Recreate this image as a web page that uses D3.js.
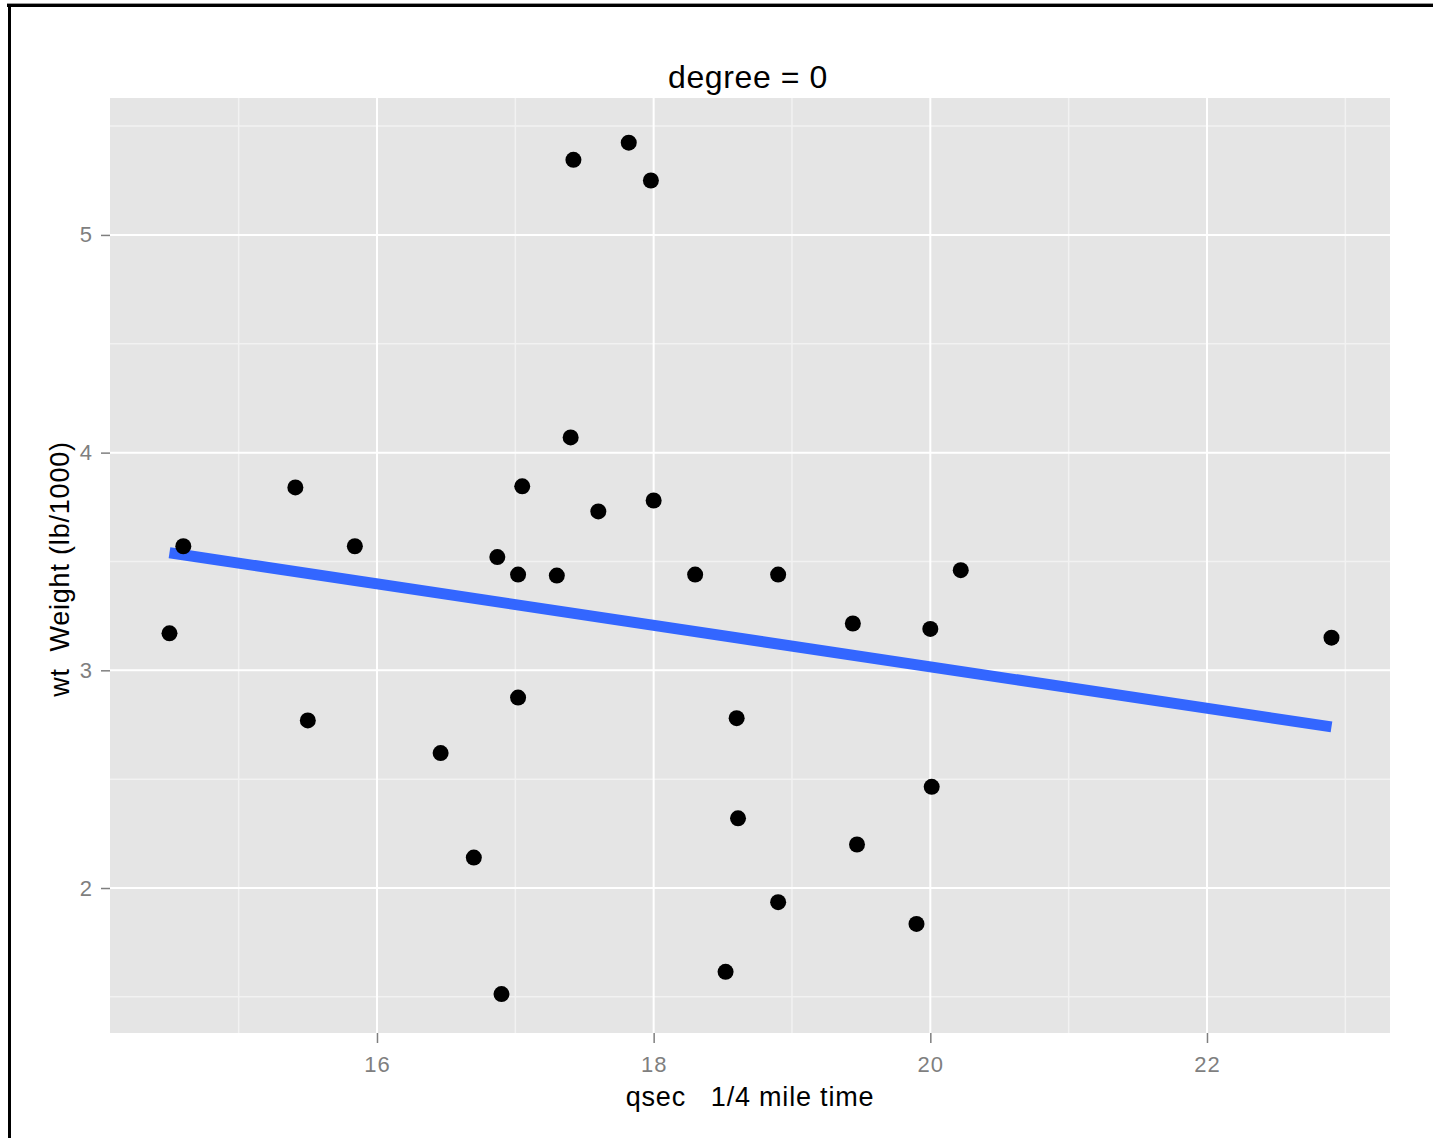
<!DOCTYPE html>
<html><head><meta charset="utf-8">
<script src="https://cdn.jsdelivr.net/npm/d3@7"></script>
<style>body{margin:0;background:#fff}svg{display:block;font-family:"Liberation Sans",Arial,sans-serif}text{white-space:pre}</style>
</head><body><svg id="c" width="1433" height="1138"></svg>
<script>
// mtcars: qsec (1/4 mile time) and wt (weight, lb/1000)
const qsec = [16.46,17.02,18.61,19.44,17.02,20.22,15.84,20.00,22.90,18.30,18.90,17.40,17.60,18.00,17.98,17.82,17.42,19.47,18.52,19.90,20.01,16.87,17.30,15.41,17.05,18.90,16.70,16.90,14.50,15.50,14.60,18.60];
const wt   = [2.620,2.875,2.320,3.215,3.440,3.460,3.570,3.190,3.150,3.440,3.440,4.070,3.730,3.780,5.250,5.424,5.345,2.200,1.615,1.835,2.465,3.520,3.435,3.840,3.845,1.935,2.140,1.513,3.170,2.770,3.570,2.780];
// fitted line endpoints
const fitQsec = [14.5, 22.9];
const fitWt = [3.54, 2.74];
const xTicks = [16, 18, 20, 22];
const xMinor = [15, 17, 19, 21, 23];
const yTicks = [2, 3, 4, 5];
const yMinor = [1.5, 2.5, 3.5, 4.5, 5.5];
const titleText = "degree = 0";
const xTitle = "qsec   1/4 mile time";
const yTitle = "wt  Weight (lb/1000)";

const svg = d3.select("#c");
const L = 110, R = 1390, T = 98, B = 1033;
const x = d3.scaleLinear().domain([14.07, 23.323]).range([L, R]);
const y = d3.scaleLinear().domain([1.334, 5.629]).range([B, T]);

// outer frame (top & left)
svg.append("rect").attr("x", 7).attr("y", 3).attr("width", 1433).attr("height", 1).attr("fill", "#999");
svg.append("rect").attr("x", 7).attr("y", 4).attr("width", 1433).attr("height", 3).attr("fill", "#000");
svg.append("rect").attr("x", 8).attr("y", 4).attr("width", 3).attr("height", 1138).attr("fill", "#000");

// panel
svg.append("rect").attr("x", L).attr("y", T).attr("width", R - L).attr("height", B - T).attr("fill", "#E5E5E5");
const grid = svg.append("g");
grid.selectAll(".xm").data(xMinor.filter(d => x(d) < R)).join("line")
  .attr("x1", d => x(d)).attr("x2", d => x(d)).attr("y1", T).attr("y2", B)
  .attr("stroke", "#F2F2F2").attr("stroke-width", 1.5);
grid.selectAll(".ym").data(yMinor.filter(d => y(d) > T)).join("line")
  .attr("y1", d => y(d)).attr("y2", d => y(d)).attr("x1", L).attr("x2", R)
  .attr("stroke", "#F2F2F2").attr("stroke-width", 1.5);
grid.selectAll(".xM").data(xTicks).join("line")
  .attr("x1", d => x(d)).attr("x2", d => x(d)).attr("y1", T).attr("y2", B)
  .attr("stroke", "#FFFFFF").attr("stroke-width", 2);
grid.selectAll(".yM").data(yTicks).join("line")
  .attr("y1", d => y(d)).attr("y2", d => y(d)).attr("x1", L).attr("x2", R)
  .attr("stroke", "#FFFFFF").attr("stroke-width", 2);

// axes
const xa = svg.append("g").attr("transform", `translate(0,${B})`)
  .call(d3.axisBottom(x).tickValues(xTicks).tickSize(10).tickPadding(13).tickFormat(d3.format("d")));
const ya = svg.append("g").attr("transform", `translate(${L},0)`)
  .call(d3.axisLeft(y).tickValues(yTicks).tickSize(9).tickPadding(8).tickFormat(d3.format("d")));
[xa, ya].forEach(a => {
  a.select(".domain").remove();
  a.selectAll(".tick line").attr("stroke", "#7F7F7F").attr("stroke-width", 1.5);
  a.selectAll(".tick text").attr("fill", "#7F7F7F").attr("font-size", 22)
    .attr("font-family", '"Liberation Sans",Arial,sans-serif').style("letter-spacing", "1px");
});

// fitted line
const line = d3.line().x(d => x(d[0])).y(d => y(d[1]));
svg.append("path").datum(fitQsec.map((q, i) => [q, fitWt[i]]))
  .attr("d", line).attr("fill", "none").attr("stroke", "#3366FF")
  .attr("stroke-width", 11).attr("stroke-linecap", "butt");

// points
svg.append("g").selectAll("circle").data(qsec.map((q, i) => [q, wt[i]])).join("circle")
  .attr("cx", d => x(d[0])).attr("cy", d => y(d[1])).attr("r", 8).attr("fill", "#000");

// titles
svg.append("text").attr("x", (L + R) / 2 - 2).attr("y", 88).attr("text-anchor", "middle")
  .attr("font-size", 32).style("letter-spacing", "0.6px").attr("fill", "#000").text(titleText);
svg.append("text").attr("x", (L + R) / 2).attr("y", 1106).attr("text-anchor", "middle")
  .attr("font-size", 27).style("letter-spacing", "0.8px").attr("fill", "#000").text(xTitle);
svg.append("text").attr("transform", `translate(69,569) rotate(-90)`).attr("text-anchor", "middle")
  .attr("font-size", 27).style("letter-spacing", "0.8px").attr("fill", "#000").text(yTitle);
</script></body></html>
